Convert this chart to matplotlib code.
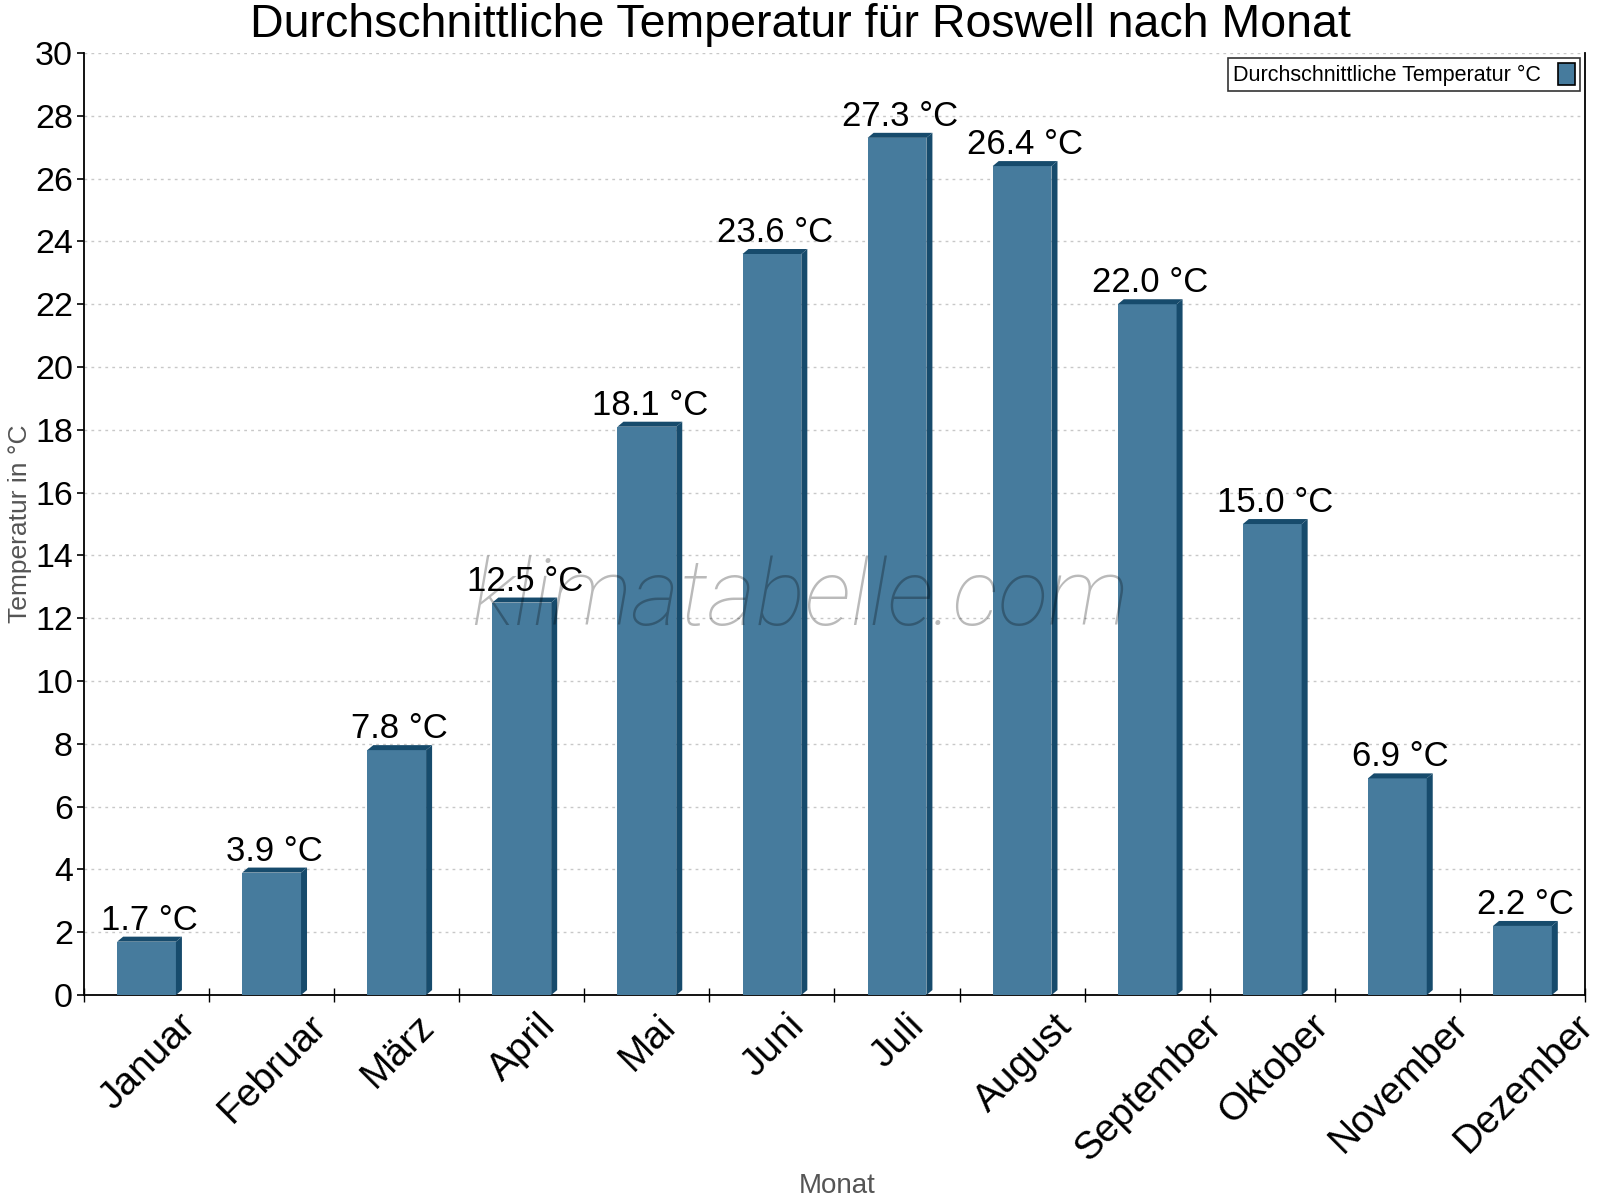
import matplotlib
matplotlib.use("Agg")
import matplotlib.pyplot as plt
from matplotlib.patches import Polygon
import numpy as np

months = ["Januar", "Februar", "März", "April", "Mai", "Juni", "Juli",
          "August", "September", "Oktober", "November", "Dezember"]
temps = [1.7, 3.9, 7.8, 12.5, 18.1, 23.6, 27.3, 26.4, 22.0, 15.0, 6.9, 2.2]
yticks = list(range(0, 31, 2))

title = "Durchschnittliche Temperatur für Roswell nach Monat"
legend_label = "Durchschnittliche Temperatur °C"
ylabel = "Temperatur in °C"
xlabel = "Monat"
watermark = "klimatabelle.com"

FRONT = "#467b9d"
DARK = "#174b6c"

plt.rcParams['font.family'] = ['Liberation Sans', 'DejaVu Sans']

fig = plt.figure(figsize=(16, 12), dpi=100)
ax = fig.add_axes([0.0525, 0.1708, 0.9381, 0.785])

n = len(months)
x = np.arange(n)
ax.set_xlim(-0.5, n - 0.5)
ax.set_ylim(0, 30)

# pixel -> data conversion for 3D depth
fig.canvas.draw()
bbox = ax.get_window_extent()
px_x = bbox.width / n
px_y = bbox.height / 30.0
ddx = 6.0 / px_x
ddy = 5.0 / px_y

bw = 0.47
bars = ax.bar(x, temps, width=bw, color=FRONT, zorder=3, label=legend_label,
              edgecolor='none')
for xi, v in zip(x, temps):
    x0, x1 = xi - bw / 2, xi + bw / 2
    top = Polygon([(x0, v), (x0 + ddx, v + ddy), (x1 + ddx, v + ddy), (x1, v)],
                  closed=True, facecolor=DARK, edgecolor='none', zorder=3)
    side = Polygon([(x1, v), (x1 + ddx, v + ddy), (x1 + ddx, ddy), (x1, 0)],
                   closed=True, facecolor=DARK, edgecolor='none', zorder=3)
    ax.add_patch(top)
    ax.add_patch(side)
    ax.annotate(f"{v:.1f} °C", xy=(xi + ddx / 2, v + ddy), xytext=(0, 5),
                textcoords='offset points', ha='center', va='baseline',
                fontsize=25, color='black', zorder=6)

# grid
ax.set_yticks(yticks)
ax.yaxis.grid(True, linestyle=(0, (2, 3)), color='#c8c8c8', linewidth=1, zorder=0)
ax.set_axisbelow(True)

# x ticks at boundaries
ax.set_xticks(np.arange(-0.5, n, 1.0))
ax.set_xticklabels([])
ax.tick_params(axis='x', direction='inout', length=10, width=1, color='black')
ax.tick_params(axis='y', direction='out', length=5, width=1.2, color='black',
               labelsize=24.5, pad=3)

for xi, m in zip(x, months):
    ax.annotate(m, xy=(xi, 0), xycoords=('data', 'axes fraction'),
                xytext=(1, -9), textcoords='offset points',
                rotation=45, ha='center', va='top', rotation_mode='default',
                fontsize=28, color='black')

for s in ['top']:
    ax.spines[s].set_visible(False)
for s in ['left', 'bottom', 'right']:
    ax.spines[s].set_color('black')
    ax.spines[s].set_linewidth(1.3)

fig.text(0.5, 0.979, title, ha='center', va='center', fontsize=33.5, color='black')
fig.text(0.0125, 0.5635, ylabel, rotation=90, ha='center', va='center',
         fontsize=19, color='#555555')
fig.text(0.523, 0.012, xlabel, ha='center', va='center', fontsize=20,
         color='#555555')

# watermark
ax.text(0.477, 0.42, watermark, transform=ax.transAxes, ha='center',
        va='center', fontsize=67, family=['Roboto', 'DejaVu Sans'],
        fontweight='light', style='italic', color='black', alpha=0.27, zorder=5)

leg = ax.legend(loc='upper right', bbox_to_anchor=(0.9995, 0.999),
                markerfirst=False, fontsize=15.5, frameon=True, fancybox=False,
                handlelength=0.8, handleheight=1.2, borderpad=0.22,
                handletextpad=0.8, borderaxespad=0.2)
leg.get_frame().set_edgecolor('black')
leg.get_frame().set_linewidth(1.2)
for h in leg.legend_handles:
    h.set_edgecolor('black')
    h.set_linewidth(1.2)

fig.savefig("out.png", dpi=100)
